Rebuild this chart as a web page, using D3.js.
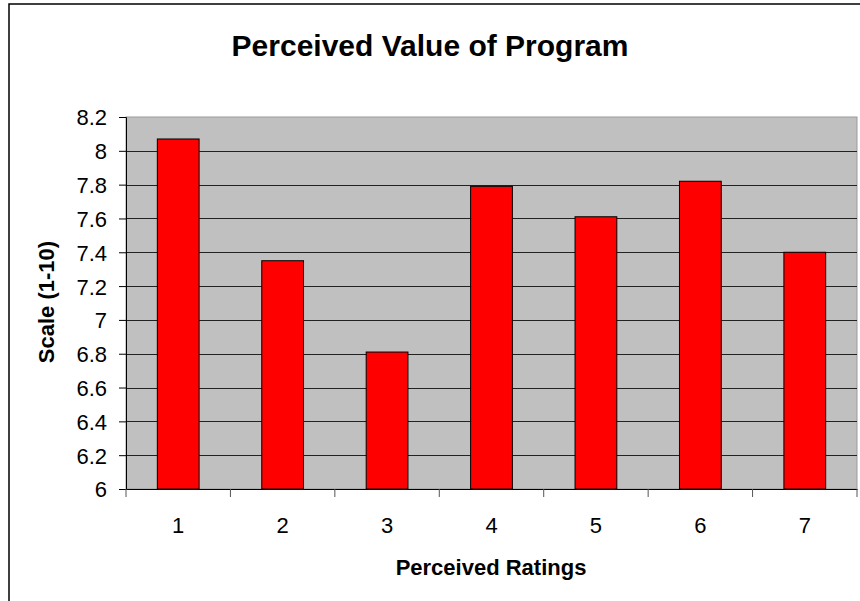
<!DOCTYPE html>
<html><head><meta charset="utf-8">
<script src="https://cdn.jsdelivr.net/npm/d3@7"></script>
<style>body{margin:0;background:#fff}svg{display:block}text{font-family:Arial,"Liberation Sans",sans-serif}</style>
</head><body>
<svg id="c" width="860" height="601"></svg>
<script>
const categories = ["1","2","3","4","5","6","7"];
const values = [8.07, 7.35, 6.81, 7.79, 7.61, 7.82, 7.40];
const yTicks = [6, 6.2, 6.4, 6.6, 6.8, 7, 7.2, 7.4, 7.6, 7.8, 8, 8.2];
const titleText = "Perceived Value of Program";
const xTitle = "Perceived Ratings";
const yTitle = "Scale (1-10)";

const svg = d3.select("#c");
const m = {left:126, right:857, top:117, bottom:489};

// outer border
svg.append("rect").attr("x",9).attr("y",4).attr("width",900).attr("height",700)
  .attr("fill","#fff").attr("stroke","#000").attr("stroke-width",1.5);

const x = d3.scaleBand().domain(categories).range([m.left,m.right]).paddingInner(0.6).paddingOuter(0.3);
const xb = d3.scaleBand().domain(categories).range([m.left,m.right]);
const y = d3.scaleLinear().domain([6,8.2]).range([m.bottom,m.top]);

svg.append("rect").attr("x",m.left).attr("y",m.top).attr("width",m.right-m.left).attr("height",m.bottom-m.top)
  .attr("fill","#c0c0c0").attr("stroke","#9a9a9a").attr("stroke-width",1);

// grid
svg.append("g").selectAll("line").data(yTicks.filter(t=>t>6 && t<8.2)).join("line")
  .attr("x1",m.left).attr("x2",m.right).attr("y1",d=>Math.round(y(d))+0.5).attr("y2",d=>Math.round(y(d))+0.5)
  .attr("stroke","#222").attr("stroke-width",1);

// bars
svg.append("g").selectAll("rect").data(values).join("rect")
  .attr("x",(d,i)=>x(categories[i])).attr("width",x.bandwidth())
  .attr("y",d=>y(d)).attr("height",d=>m.bottom-y(d))
  .attr("fill","#ff0000").attr("stroke","#000").attr("stroke-width",1);

// y axis
const ya = d3.axisLeft(y).tickValues(yTicks).tickSize(7).tickPadding(12).tickFormat(d=>d3.format("")(+d.toFixed(1)));
const gy = svg.append("g").attr("transform",`translate(${m.left},0)`).call(ya);
gy.select(".domain").attr("stroke","#000");
gy.selectAll(".tick line").attr("stroke","#000");
gy.selectAll(".tick text").attr("font-size",22).attr("fill","#000").attr("dy","0.36em");

// x axis
const xa = d3.axisBottom(xb).tickSize(0).tickPadding(44);
const gx = svg.append("g").attr("transform",`translate(0,${m.bottom})`).call(xa);
gx.select(".domain").attr("stroke","#000");
gx.selectAll(".tick text").attr("font-size",22).attr("fill","#000").attr("dy","0");
const bounds = categories.map(c=>xb(c)).concat([m.right]);
gx.append("g").selectAll("line").data(bounds).join("line")
  .attr("x1",d=>d).attr("x2",d=>d).attr("y1",0).attr("y2",8).attr("stroke","#555");

svg.append("text").attr("x",430).attr("y",56).attr("text-anchor","middle")
  .attr("font-size",30).attr("font-weight","bold").text(titleText);
svg.append("text").attr("x",491).attr("y",575).attr("text-anchor","middle")
  .attr("font-size",22).attr("font-weight","bold").text(xTitle);
svg.append("text").attr("transform","translate(54,302) rotate(-90)").attr("text-anchor","middle")
  .attr("font-size",22).attr("font-weight","bold").text(yTitle);
</script>
</body></html>
